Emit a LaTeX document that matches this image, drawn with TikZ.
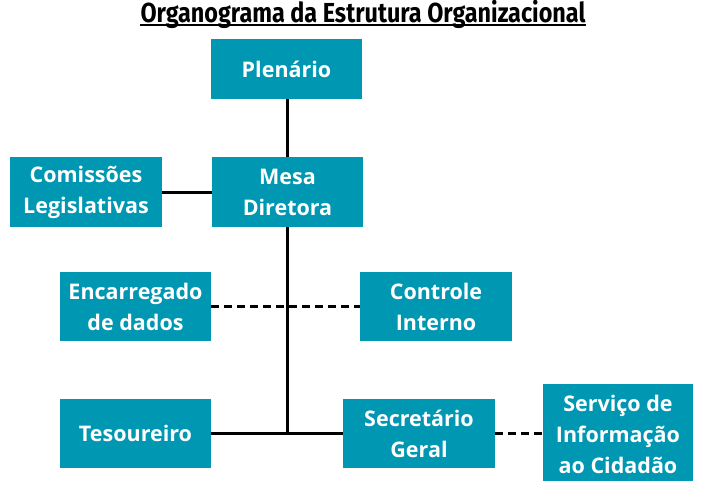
\documentclass[tikz,border=0pt]{standalone}
\usepackage{fontspec}
\setmainfont{Open Sans}
\newfontfamily\titlefont[FakeStretch=0.85]{Fira Sans}
\definecolor{teal}{HTML}{0097B2}
\begin{document}
\begin{tikzpicture}[x=1pt,y=-1pt,
  box/.style={fill=teal, text=white, font=\fontsize{21.5}{31}\selectfont\bfseries, align=center, inner sep=0pt, anchor=center},
  link/.style={line width=3pt, black},
  dlink/.style={line width=3pt, black, dash pattern=on 8pt off 5pt}]
\useasboundingbox (0,0) rectangle (720,480);
\node[font=\titlefont\bfseries\fontsize{27.5}{30}\selectfont, inner sep=0pt, anchor=base] (title) at (363,22) {Organograma da Estrutura Organizacional};
\coordinate (ul) at (0,25);
\draw[line width=2pt] (title.west |- ul) -- (title.east |- ul);
\node[box, minimum width=151pt, minimum height=60pt] (plen) at (286.5,69) {Plenário};
\node[box, minimum width=151pt, minimum height=70pt] (mesa) at (287.5,192) {Mesa\\Diretora};
\node[box, minimum width=152pt, minimum height=70pt] (com) at (86,192) {Comissões\\Legislativas};
\node[box, minimum width=151pt, minimum height=69pt] (enc) at (135.5,306.5) {Encarregado\\de dados};
\node[box, minimum width=152pt, minimum height=69pt] (ctrl) at (436,306.5) {Controle\\Interno};
\node[box, minimum width=151pt, minimum height=69pt] (tes) at (135.5,433.5) {Tesoureiro};
\node[box, minimum width=152pt, minimum height=69pt] (sec) at (419,433.5) {Secretário\\Geral};
\node[box, minimum width=150pt, minimum height=100pt] (serv) at (618,434) {Serviço de\\Informação\\ao Cidadão};
\coordinate (j) at (287,433.5);
\draw[link] (plen.south -| j) -- (mesa.north -| j);
\draw[link] (com.east) -- (mesa.west);
\draw[link] (mesa.south -| j) -- (j);
\draw[link] (tes.east) -- (sec.west);
\draw[dlink] (enc.east) -- (ctrl.west);
\draw[dlink] (sec.east) -- (serv.west |- sec.east);
\end{tikzpicture}
\end{document}
